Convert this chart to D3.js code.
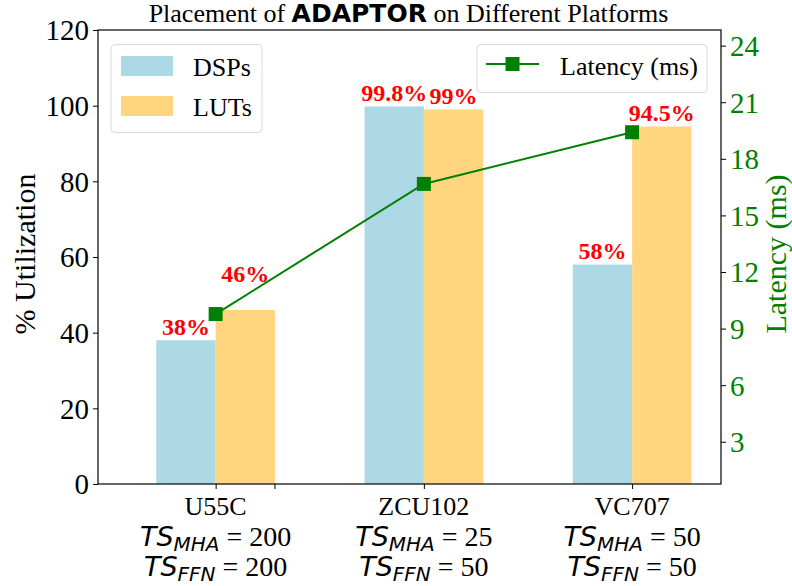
<!DOCTYPE html>
<html>
<head>
<meta charset="utf-8">
<script src="https://cdn.jsdelivr.net/npm/d3@7"></script>
<style>
  body { margin: 0; background: #fff; }
  svg { display: block; }
  text { font-family: "Liberation Serif", "Times New Roman", serif; }
</style>
</head>
<body>
<div id="chart"></div>
<script>
// data
var platforms = ["U55C", "ZCU102", "VC707"];
var tsMHA = ["200", "25", "50"];
var tsFFN = ["200", "50", "50"];
var dsps = [38, 99.8, 58];
var luts = [46, 99, 94.5];
var dspLabels = ["38%", "99.8%", "58%"];
var lutLabels = ["46%", "99%", "94.5%"];
var latency = [9.77, 16.67, 19.41];
var leftTicks = [0, 20, 40, 60, 80, 100, 120];
var rightTicks = [3, 6, 9, 12, 15, 18, 21, 24];

var W = 792, H = 586;
var plot = {left: 98, right: 721, top: 30, bottom: 484};
var barW = 0.285;

var svg = d3.select("#chart").append("svg")
    .attr("width", W)
    .attr("height", H);

// scales
var xScale = d3.scaleLinear().domain([-0.565, 2.427]).range([plot.left, plot.right]);
var yScale = d3.scaleLinear().domain([0, 120]).range([plot.bottom, plot.top]);
var y2Scale = d3.scaleLinear().domain([0.76, 24.83]).range([plot.bottom, plot.top]);

// bars
var g = svg.append("g");
g.selectAll(".dsp").data(dsps).enter().append("rect")
    .attr("x", function(d, i) { return xScale(i - barW); })
    .attr("y", function(d) { return yScale(d); })
    .attr("width", xScale(barW) - xScale(0))
    .attr("height", function(d) { return yScale(0) - yScale(d); })
    .attr("fill", "#add8e6");
g.selectAll(".lut").data(luts).enter().append("rect")
    .attr("x", function(d, i) { return xScale(i); })
    .attr("y", function(d) { return yScale(d); })
    .attr("width", xScale(barW) - xScale(0))
    .attr("height", function(d) { return yScale(0) - yScale(d); })
    .attr("fill", "#ffd580");

// bar labels
function barLabel(vals, labels, shift) {
  g.selectAll(null).data(vals).enter().append("text")
      .attr("x", function(d, i) { return xScale(i + shift); })
      .attr("y", function(d, i) {
        // the 46% label sits higher to clear the latency line
        var extra = (labels[i] === "46%") ? 22 : 0;
        return yScale(d) - 5.5 - extra;
      })
      .attr("text-anchor", "middle")
      .attr("font-size", 24)
      .attr("font-weight", "bold")
      .attr("fill", "red")
      .text(function(d, i) { return labels[i]; });
}
barLabel(dsps, dspLabels, -barW / 2);
barLabel(luts, lutLabels, barW / 2);

// latency line
var line = d3.line()
    .x(function(d, i) { return xScale(i); })
    .y(function(d) { return y2Scale(d); });
g.append("path")
    .datum(latency)
    .attr("d", line)
    .attr("fill", "none")
    .attr("stroke", "green")
    .attr("stroke-width", 2);
g.selectAll(".mk").data(latency).enter().append("rect")
    .attr("x", function(d, i) { return xScale(i) - 7; })
    .attr("y", function(d) { return y2Scale(d) - 7; })
    .attr("width", 14)
    .attr("height", 14)
    .attr("fill", "green");

// frame
svg.append("rect")
    .attr("x", plot.left).attr("y", plot.top)
    .attr("width", plot.right - plot.left)
    .attr("height", plot.bottom - plot.top)
    .attr("fill", "none")
    .attr("stroke", "#000")
    .attr("stroke-width", 1.2);

// left axis
var yAxis = d3.axisLeft(yScale).tickValues(leftTicks).tickSize(5).tickPadding(4);
var ya = svg.append("g").attr("transform", "translate(" + plot.left + ",0)").call(yAxis);
ya.select(".domain").remove();
ya.selectAll("text").attr("font-size", 29).attr("font-family", "Liberation Serif").attr("fill", "#000").attr("dy", "0.34em");

// right axis
var y2Axis = d3.axisRight(y2Scale).tickValues(rightTicks).tickSize(5).tickPadding(4);
var ya2 = svg.append("g").attr("transform", "translate(" + plot.right + ",0)").call(y2Axis);
ya2.select(".domain").remove();
ya2.selectAll("text").attr("font-size", 29).attr("font-family", "Liberation Serif").attr("fill", "green").attr("dy", "0.34em");

// bottom axis
var xAxis = d3.axisBottom(xScale).tickValues([0, 1, 2]).tickSize(5).tickFormat("");
var xa = svg.append("g").attr("transform", "translate(0," + plot.bottom + ")").call(xAxis);
xa.select(".domain").remove();
xa.append("line")
    .attr("x1", xScale(barW)).attr("x2", xScale(barW))
    .attr("y1", 0).attr("y2", 5)
    .attr("stroke", "#000");

var xl = svg.append("g");
platforms.forEach(function(p, i) {
  var cx = xScale(i);
  xl.append("text")
      .attr("x", cx).attr("y", 515)
      .attr("text-anchor", "middle")
      .attr("font-size", 26)
      .text(p);
  [["MHA", tsMHA[i], 546], ["FFN", tsFFN[i], 576]].forEach(function(r) {
    var t = xl.append("text")
        .attr("x", cx).attr("y", r[2])
        .attr("text-anchor", "middle")
        .attr("font-size", 28);
    t.append("tspan")
        .attr("font-family", "DejaVu Sans")
        .attr("font-style", "italic")
        .attr("font-size", 27)
        .text("TS");
    t.append("tspan")
        .attr("font-family", "DejaVu Sans")
        .attr("font-style", "italic")
        .attr("font-size", 20)
        .attr("dy", 5)
        .text(r[0]);
    t.append("tspan")
        .attr("dy", -5)
        .text(" = " + r[1]);
  });
});

// axis titles
svg.append("text")
    .attr("transform", "translate(35,254) rotate(-90)")
    .attr("text-anchor", "middle")
    .attr("font-size", 30)
    .text("% Utilization");
svg.append("text")
    .attr("transform", "translate(786,254) rotate(-90)")
    .attr("text-anchor", "middle")
    .attr("font-size", 30)
    .attr("fill", "green")
    .text("Latency (ms)");

// title
var title = svg.append("text")
    .attr("x", (plot.left + plot.right) / 2 - 1)
    .attr("y", 22)
    .attr("text-anchor", "middle")
    .attr("font-size", 26);
title.append("tspan").text("Placement of ");
title.append("tspan").attr("font-family", "DejaVu Sans").attr("font-weight", "bold").attr("font-size", 25).text("ADAPTOR");
title.append("tspan").text(" on Different Platforms");

// legend: bars
var leg1 = svg.append("g");
leg1.append("rect")
    .attr("x", 111).attr("y", 44.5)
    .attr("width", 151).attr("height", 88)
    .attr("rx", 4)
    .attr("fill", "#fff").attr("fill-opacity", 0.8)
    .attr("stroke", "#d9d9d9");
[["DSPs", "#add8e6"], ["LUTs", "#ffd580"]].forEach(function(e, i) {
  leg1.append("rect")
      .attr("x", 121).attr("y", 56 + i * 40)
      .attr("width", 52).attr("height", 20)
      .attr("fill", e[1]);
  leg1.append("text")
      .attr("x", 193).attr("y", 75.5 + i * 40)
      .attr("font-size", 26)
      .text(e[0]);
});

// legend: line
var leg2 = svg.append("g");
leg2.append("rect")
    .attr("x", 477).attr("y", 44.5)
    .attr("width", 230).attr("height", 48)
    .attr("rx", 4)
    .attr("fill", "#fff").attr("fill-opacity", 0.8)
    .attr("stroke", "#d9d9d9");
leg2.append("line")
    .attr("x1", 486).attr("x2", 539)
    .attr("y1", 64).attr("y2", 64)
    .attr("stroke", "green").attr("stroke-width", 2);
leg2.append("rect")
    .attr("x", 505.5).attr("y", 57)
    .attr("width", 14).attr("height", 14)
    .attr("fill", "green");
leg2.append("text")
    .attr("x", 560).attr("y", 75)
    .attr("font-size", 26)
    .text("Latency (ms)");
</script>
</body>
</html>
